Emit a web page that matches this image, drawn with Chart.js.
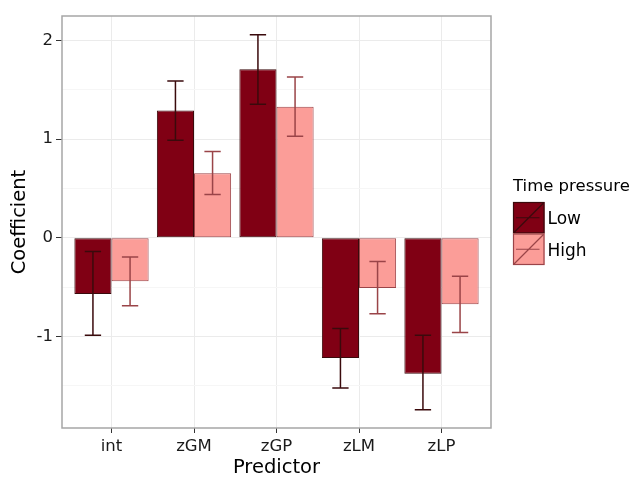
<!DOCTYPE html>
<html>
<head>
<meta charset="utf-8">
<script src="https://cdn.jsdelivr.net/npm/chart.js@4/dist/chart.umd.min.js"></script>
<style>
    body { margin: 0; background: #fff; }
    canvas { display: block; }
</style>
</head>
<body>
<canvas id="coefChart" width="638" height="480"></canvas>
<script>
// values
var categories = ['int', 'zGM', 'zGP', 'zLM', 'zLP'];
var lowCoef = [-0.57, 1.29, 1.71, -1.22, -1.38];
var lowUpper = [-0.14, 1.59, 2.06, -0.92, -0.99];
var lowLower = [-0.99, 0.99, 1.355, -1.525, -1.745];
var highCoef = [-0.44, 0.655, 1.33, -0.51, -0.675];
var highUpper = [-0.195, 0.875, 1.63, -0.24, -0.39];
var highLower = [-0.69, 0.44, 1.03, -0.77, -0.96];
var groupNames = ['Low', 'High'];

var lowFill = '#800014';
var highFill = '#fb9d98';
var lowLine = '#3a0a0c';
var highLine = '#9a4448';
var fontFamily = '"DejaVu Sans", Verdana, sans-serif';

function toPoints(values) {
    return values.map(function (v, i) {
        return { x: i, y: v };
    });
}

var errorBars = {
    id: 'errorBars',
    afterDatasetsDraw: function (chart) {
        var ctx = chart.ctx;
        var yScale = chart.scales.y;
        var bounds = [[lowUpper, lowLower], [highUpper, highLower]];
        var colors = [lowLine, highLine];

        ctx.save();
        for (var d = 0; d < 2; d++) {
            var meta = chart.getDatasetMeta(d);
            ctx.strokeStyle = colors[d];
            ctx.lineWidth = 1.5;
            meta.data.forEach(function (bar, i) {
                var yTop = yScale.getPixelForValue(bounds[d][0][i]);
                var yBot = yScale.getPixelForValue(bounds[d][1][i]);
                var half = bar.width * 0.22;
                ctx.beginPath();
                ctx.moveTo(bar.x, yTop);
                ctx.lineTo(bar.x, yBot);
                ctx.moveTo(bar.x - half, yTop);
                ctx.lineTo(bar.x + half, yTop);
                ctx.moveTo(bar.x - half, yBot);
                ctx.lineTo(bar.x + half, yBot);
                ctx.stroke();
            });
        }

        // panel border
        var a = chart.chartArea;
        ctx.strokeStyle = '#a6a6a6';
        ctx.lineWidth = 1.5;
        ctx.strokeRect(a.left, a.top, a.right - a.left, a.bottom - a.top);
        ctx.restore();
    }
};

var sideLegend = {
    id: 'sideLegend',
    afterDraw: function (chart) {
        var ctx = chart.ctx;
        var x = 513;
        var y = 202;
        var size = 31.5;
        var fills = [lowFill, highFill];
        var lines = [lowLine, highLine];

        ctx.save();
        ctx.fillStyle = '#000';
        ctx.font = '16.5px ' + fontFamily;
        ctx.textBaseline = 'middle';
        ctx.textAlign = 'left';
        ctx.fillText('Time pressure', x, 187);

        for (var k = 0; k < 2; k++) {
            var top = y + k * size;
            ctx.fillStyle = fills[k];
            ctx.fillRect(x, top, size, size);
            ctx.strokeStyle = lines[k];
            ctx.lineWidth = 1.2;
            ctx.strokeRect(x + 0.5, top + 0.5, size - 1, size - 1);
            ctx.beginPath();
            ctx.moveTo(x + 1, top + size - 1);
            ctx.lineTo(x + size - 1, top + 1);
            ctx.moveTo(x + 3, top + size / 2);
            ctx.lineTo(x + size - 5, top + size / 2);
            ctx.stroke();

            ctx.fillStyle = '#000';
            ctx.font = '17px ' + fontFamily;
            ctx.fillText(groupNames[k], x + size + 3, top + size / 2 + 2);
        }
        ctx.restore();
    }
};

new Chart(document.getElementById('coefChart'), {
    type: 'bar',
    data: {
        datasets: [{
            label: groupNames[0],
            data: toPoints(lowCoef),
            backgroundColor: lowFill,
            borderColor: lowLine,
            borderWidth: 1,
            borderSkipped: false,
            categoryPercentage: 0.9,
            barPercentage: 1.0
        }, {
            label: groupNames[1],
            data: toPoints(highCoef),
            backgroundColor: highFill,
            borderColor: highLine,
            borderWidth: 1,
            borderSkipped: false,
            categoryPercentage: 0.9,
            barPercentage: 1.0
        }]
    },
    options: {
        responsive: false,
        animation: false,
        layout: {
            padding: { left: 0, right: 147, top: 16, bottom: 0 }
        },
        plugins: {
            legend: { display: false },
            tooltip: { enabled: false }
        },
        scales: {
            x: {
                type: 'linear',
                offset: false,
                min: -0.6,
                max: 4.6,
                afterFit: function (scale) { scale.height = 52; },
                ticks: {
                    stepSize: 1,
                    includeBounds: false,
                    padding: 4,
                    color: '#1a1a1a',
                    font: { family: fontFamily, size: 16.5 },
                    callback: function (value) { return categories[value]; }
                },
                grid: {
                    offset: false,
                    color: '#ebebeb',
                    lineWidth: 1,
                    tickLength: 5,
                    tickColor: '#333'
                },
                border: { display: false },
                title: {
                    display: true,
                    text: 'Predictor',
                    color: '#000',
                    font: { family: fontFamily, size: 19.5 },
                    padding: { top: 0, bottom: 0 }
                }
            },
            y: {
                min: -1.93,
                max: 2.25,
                afterFit: function (scale) { scale.width = 62; },
                ticks: {
                    stepSize: 0.5,
                    includeBounds: false,
                    padding: 3,
                    color: '#1a1a1a',
                    font: { family: fontFamily, size: 16.5 },
                    callback: function (value) {
                        return Number.isInteger(value) ? String(value) : '';
                    }
                },
                grid: {
                    color: function (c) {
                        return Number.isInteger(c.tick.value) ? '#ebebeb' : '#f6f6f6';
                    },
                    lineWidth: 1,
                    tickLength: 6,
                    tickColor: function (c) {
                        return Number.isInteger(c.tick.value) ? '#333' : 'rgba(0,0,0,0)';
                    }
                },
                border: { display: false },
                title: {
                    display: true,
                    text: 'Coefficient',
                    color: '#000',
                    font: { family: fontFamily, size: 19.5 },
                    padding: { top: 8, bottom: 0 }
                }
            }
        }
    },
    plugins: [errorBars, sideLegend]
});
</script>
</body>
</html>
